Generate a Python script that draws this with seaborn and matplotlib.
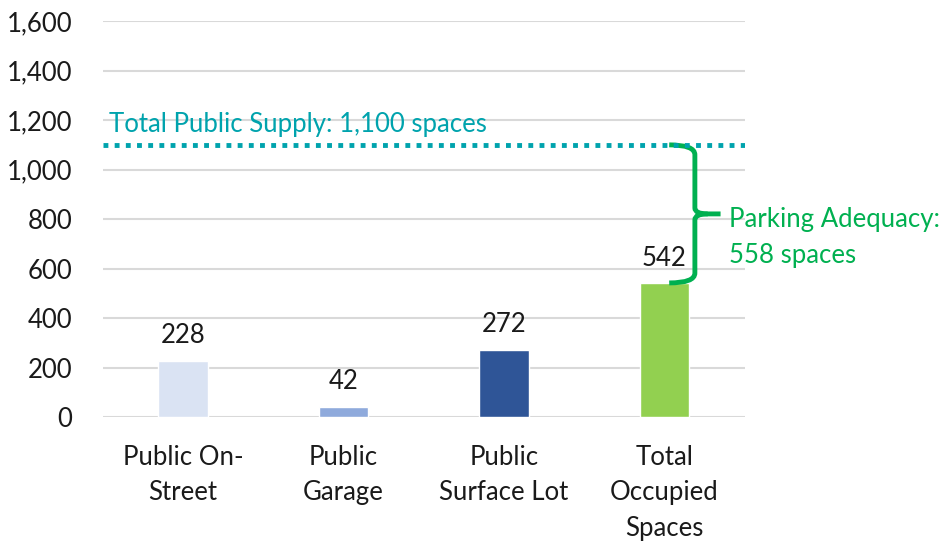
import matplotlib
matplotlib.use("Agg")
import matplotlib.pyplot as plt
import seaborn as sns
import pandas as pd
from matplotlib.path import Path
from matplotlib.patches import PathPatch

categories = ["Public On-\nStreet", "Public\nGarage", "Public\nSurface Lot", "Total\nOccupied\nSpaces"]
values = [228, 42, 272, 542]
bar_colors = ["#DAE3F3", "#8FAADC", "#2F5597", "#92D050"]
supply = 1100
supply_label = "Total Public Supply: 1,100 spaces"
adequacy_label = "Parking Adequacy:\n558 spaces"
yticks = [0, 200, 400, 600, 800, 1000, 1200, 1400, 1600]

sns.set_theme(style="white")
plt.rcParams['font.family'] = ['Lato', 'DejaVu Sans']

FS = 18.5
fig = plt.figure(figsize=(9.51, 5.43), dpi=100)
ax = fig.add_axes([0.108, 0.232, 0.675, 0.729])

df = pd.DataFrame({"cat": categories, "val": values})
sns.barplot(data=df, x="cat", y="val", hue="cat", palette=bar_colors,
            width=0.31, legend=False, ax=ax, saturation=1)

ax.set_ylim(0, 1600)
ax.set_xlim(-0.5, 3.5)
ax.set_yticks(yticks)
ax.set_yticklabels([f"{v:,}" for v in yticks])
ax.yaxis.grid(True, color="#D9D9D9", linewidth=1.5)
ax.set_axisbelow(True)
for s in ax.spines.values():
    s.set_visible(False)
ax.set_xlabel("")
ax.set_ylabel("")
ax.tick_params(axis="both", length=0, labelsize=FS, colors="#1a1a1a")
ax.tick_params(axis="y", pad=22)
ax.tick_params(axis="x", pad=20)
for lbl in ax.get_xticklabels():
    lbl.set_linespacing(1.52)
    lbl.set_verticalalignment("top")

for i, v in enumerate(values):
    ax.text(i, v + 50, f"{v:,}", ha="center", va="bottom", fontsize=FS, color="#1a1a1a")

ax.axhline(supply, color="#00A3AD", linewidth=3.5, linestyle=(0, (1, 1.3)), xmin=0, xmax=1)
ax.text(-0.46, supply + 30, supply_label, color="#00A3AD", fontsize=FS, ha="left", va="bottom")

# brace
low, high = values[3], supply
mid = (low + high) / 2
x0, xv, xt = 3.03, 3.19, 3.35
r = 20
verts = [
    (x0, high), (xv, high), (xv, high - r * 2),
    (xv, mid + r * 1.2), (xv, mid), (xt - 0.08, mid),
    (xt, mid),
]
codes = [Path.MOVETO, Path.CURVE3, Path.CURVE3, Path.LINETO, Path.CURVE3, Path.CURVE3, Path.LINETO]
verts2 = [
    (x0, low), (xv, low), (xv, low + r * 2),
    (xv, mid - r * 1.2), (xv, mid), (xt - 0.08, mid),
]
codes2 = [Path.MOVETO, Path.CURVE3, Path.CURVE3, Path.LINETO, Path.CURVE3, Path.CURVE3]
for vv, cc in [(verts, codes), (verts2, codes2)]:
    ax.add_patch(PathPatch(Path(vv, cc), fill=False, edgecolor="#00B050", linewidth=3.5,
                           capstyle="butt", clip_on=False))

ax.text(3.405, mid - 95, adequacy_label, color="#00B050", fontsize=FS, ha="left", va="center",
        linespacing=1.55)

fig.savefig("out.png", dpi=100)
